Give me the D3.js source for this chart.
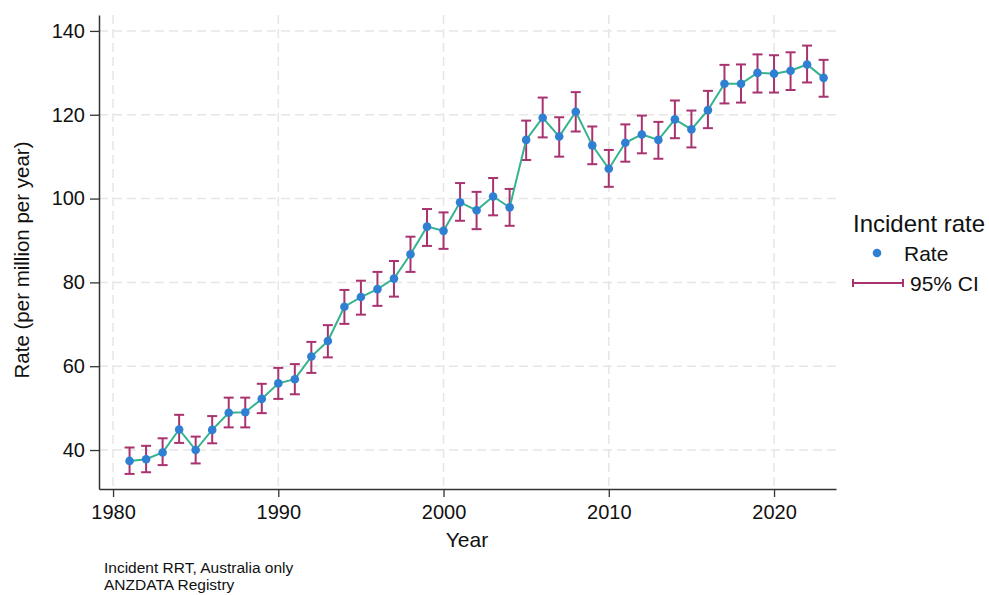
<!DOCTYPE html>
<html>
<head>
<meta charset="utf-8">
<script src="https://cdn.jsdelivr.net/npm/d3@7"></script>
<style>
  body { margin: 0; background: #fff; }
  text { font-family: "Liberation Sans", Arial, sans-serif; fill: #111; }
</style>
</head>
<body>
<svg id="chart" width="989" height="595"></svg>
<script>
// data
var years = d3.range(1981, 2024);
var rate = [37.4, 37.8, 39.4, 44.9, 40.0, 44.8, 48.9, 49.0, 52.2, 55.9,
            56.9, 62.3, 66.0, 74.2, 76.5, 78.4, 80.9, 86.7, 93.3, 92.3,
            99.1, 97.2, 100.5, 97.9, 114.0, 119.3, 114.8, 120.7, 112.7, 107.1,
            113.3, 115.3, 114.0, 118.9, 116.5, 121.1, 127.4, 127.4, 130.0, 129.8,
            130.5, 132.0, 128.8];
var ciLow = [34.3, 34.7, 36.4, 41.7, 36.8, 41.6, 45.4, 45.4, 48.8, 52.2,
             53.3, 58.4, 62.1, 70.1, 72.3, 74.4, 76.6, 82.5, 88.7, 88.0,
             94.7, 92.7, 96.0, 93.5, 109.2, 114.6, 110.0, 116.0, 108.2, 102.8,
             108.8, 110.8, 109.5, 114.4, 112.2, 116.8, 122.7, 122.9, 125.3, 125.3,
             125.9, 127.7, 124.3];
var ciHigh = [40.6, 41.0, 42.8, 48.4, 43.2, 48.1, 52.5, 52.5, 55.8, 59.6,
              60.5, 65.8, 69.8, 78.2, 80.4, 82.5, 85.1, 90.9, 97.5, 96.7,
              103.7, 101.6, 104.9, 102.3, 118.6, 124.1, 119.4, 125.4, 117.2, 111.6,
              117.7, 119.8, 118.3, 123.4, 121.0, 125.7, 131.9, 132.0, 134.4, 134.2,
              134.9, 136.5, 133.1];
var xTicks = [1980, 1990, 2000, 2010, 2020];
var yTicks = [40, 60, 80, 100, 120, 140];

var data = years.map(function(y, i) {
  return {year: y, rate: rate[i], lo: ciLow[i], hi: ciHigh[i]};
});

var svg = d3.select("#chart"),
    margin = {top: 15, right: 153, bottom: 106, left: 99},
    w = +svg.attr("width") - margin.left - margin.right,
    h = +svg.attr("height") - margin.top - margin.bottom;

var x = d3.scaleLinear().domain([1979.15, 2023.75]).range([0, w]);
var y = d3.scaleLinear().domain([30.7, 143.8]).range([h, 0]);

var lineCol = "#35b38f", dotCol = "#2f80d3", ciCol = "#a8336f";

var g = svg.append("g")
    .attr("transform", "translate(" + margin.left + "," + margin.top + ")");

// grid
g.append("g").selectAll("line")
    .data(yTicks)
  .enter().append("line")
    .attr("x1", 0).attr("x2", w)
    .attr("y1", function(d) { return y(d); })
    .attr("y2", function(d) { return y(d); })
    .style("stroke", "#e6e6e6").style("stroke-width", 1.5)
    .style("stroke-dasharray", "9,5");

g.append("g").selectAll("line")
    .data(xTicks)
  .enter().append("line")
    .attr("y1", 0).attr("y2", h)
    .attr("x1", function(d) { return x(d); })
    .attr("x2", function(d) { return x(d); })
    .style("stroke", "#e6e6e6").style("stroke-width", 1.5)
    .style("stroke-dasharray", "9,5");

// axes
var xAxis = g.append("g")
    .attr("transform", "translate(0," + h + ")")
    .call(d3.axisBottom(x).tickValues(xTicks).tickFormat(d3.format("d")).tickSize(8).tickSizeOuter(0).tickPadding(8));
var yAxis = g.append("g")
    .call(d3.axisLeft(y).tickValues(yTicks).tickSize(9).tickSizeOuter(0).tickPadding(5));

[xAxis, yAxis].forEach(function(a) {
  a.select(".domain").style("stroke", "#333").style("stroke-width", 1.5);
  a.selectAll(".tick line").style("stroke", "#333").style("stroke-width", 1.3);
  a.selectAll("text").style("font-size", "20px").style("fill", "#111")
    .style("font-family", "'Liberation Sans', Arial, sans-serif");
});

// CI bars
var ci = g.append("g").selectAll("g")
    .data(data)
  .enter().append("g")
    .style("stroke", ciCol).style("stroke-width", 2);
ci.append("line")
    .attr("x1", function(d) { return x(d.year); })
    .attr("x2", function(d) { return x(d.year); })
    .attr("y1", function(d) { return y(d.lo); })
    .attr("y2", function(d) { return y(d.hi); });
ci.append("line")
    .attr("x1", function(d) { return x(d.year) - 5; })
    .attr("x2", function(d) { return x(d.year) + 5; })
    .attr("y1", function(d) { return y(d.lo); })
    .attr("y2", function(d) { return y(d.lo); });
ci.append("line")
    .attr("x1", function(d) { return x(d.year) - 5; })
    .attr("x2", function(d) { return x(d.year) + 5; })
    .attr("y1", function(d) { return y(d.hi); })
    .attr("y2", function(d) { return y(d.hi); });

// rate line
g.append("path")
    .datum(data)
    .attr("d", d3.line().x(function(d) { return x(d.year); }).y(function(d) { return y(d.rate); }))
    .style("fill", "none").style("stroke", lineCol).style("stroke-width", 2);

g.selectAll(".dot")
    .data(data)
  .enter().append("circle")
    .attr("class", "dot")
    .attr("cx", function(d) { return x(d.year); })
    .attr("cy", function(d) { return y(d.rate); })
    .attr("r", 4.3)
    .style("fill", dotCol);

// titles
svg.append("text")
    .attr("x", 467).attr("y", 547)
    .attr("text-anchor", "middle").style("font-size", "21px")
    .text("Year");
svg.append("text")
    .attr("transform", "translate(29,260) rotate(-90)")
    .attr("text-anchor", "middle").style("font-size", "20.5px")
    .text("Rate (per million per year)");

svg.append("text").attr("x", 104).attr("y", 572.5).style("font-size", "15.5px")
    .text("Incident RRT, Australia only");
svg.append("text").attr("x", 104).attr("y", 590).style("font-size", "15.5px")
    .text("ANZDATA Registry");

// legend
var lg = svg.append("g").attr("transform", "translate(852,0)");
lg.append("text").attr("x", 1).attr("y", 232).style("font-size", "24px").text("Incident rate");
lg.append("circle").attr("cx", 25).attr("cy", 253).attr("r", 4.3).style("fill", dotCol);
lg.append("text").attr("x", 52).attr("y", 261).style("font-size", "21px").text("Rate");
lg.append("line").attr("x1", 1).attr("x2", 51).attr("y1", 283).attr("y2", 283)
    .style("stroke", ciCol).style("stroke-width", 2);
[1, 51].forEach(function(px) {
  lg.append("line").attr("x1", px).attr("x2", px).attr("y1", 279).attr("y2", 287)
    .style("stroke", ciCol).style("stroke-width", 2);
});
lg.append("text").attr("x", 58).attr("y", 291).style("font-size", "21px").text("95% CI");
</script>
</body>
</html>
